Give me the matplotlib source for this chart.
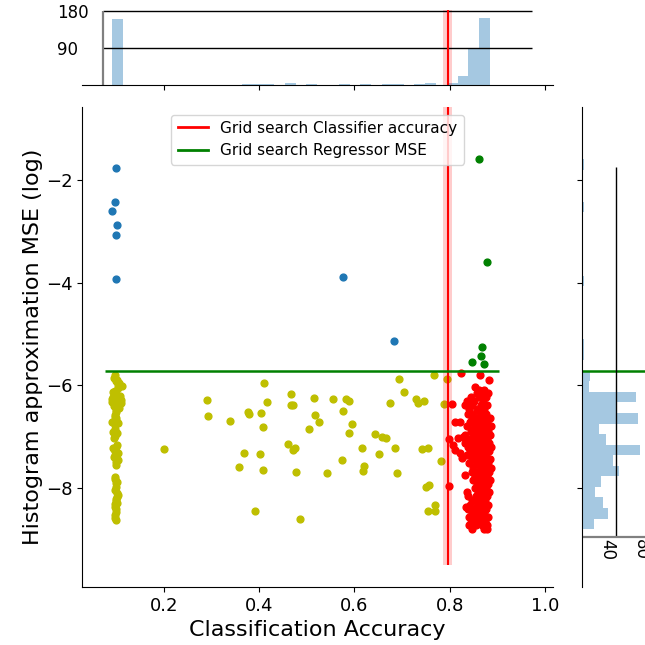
import numpy as np
import matplotlib
matplotlib.use("Agg")
import matplotlib.pyplot as plt
from matplotlib.lines import Line2D

# ---- data ----
# classifier accuracy / log MSE of the grid search results, split by quadrant
blue_x = [0.099, 0.096, 0.091, 0.1006, 0.099, 0.099, 0.575, 0.684]
blue_y = [-1.77, -2.43, -2.61, -2.87, -3.07, -3.93, -3.88, -5.13]

green_x = [0.861, 0.878, 0.869, 0.865, 0.847, 0.872]
green_y = [-1.60, -3.59, -5.25, -5.43, -5.55, -5.58]

# yellow: column near 0.1
yel_col_x = [0.096, 0.095, 0.102, 0.106, 0.112, 0.103, 0.098, 0.101, 0.093, 0.109,
             0.091, 0.096, 0.102, 0.094, 0.099, 0.098, 0.100, 0.101, 0.097, 0.093,
             0.096, 0.094, 0.102, 0.094, 0.104, 0.095, 0.099, 0.100, 0.098, 0.099,
             0.097, 0.102, 0.100, 0.098, 0.099, 0.096, 0.099, 0.100, 0.097, 0.105,
             0.099, 0.100, 0.097, 0.099, 0.098, 0.101, 0.098, 0.100, 0.101, 0.099,
             0.098, 0.100, 0.097, 0.101, 0.096, 0.097, 0.103, 0.108, 0.090, 0.110,
             0.092, 0.106, 0.091, 0.104, 0.092, 0.103, 0.104, 0.101, 0.102]
yel_col_y = [-5.80, -5.86, -5.89, -5.96, -6.02, -6.05, -6.14, -6.19, -6.23, -6.28,
             -6.32, -6.36, -6.38, -6.41, -6.48, -6.58, -6.64, -6.71, -6.77, -6.90,
             -6.98, -7.03, -7.16, -7.23, -7.32, -7.39, -7.49, -7.55, -7.78, -7.91,
             -8.04, -8.17, -8.26, -8.36, -8.46, -8.59, -8.62, -5.92, -6.10, -6.25,
             -6.30, -6.52, -6.85, -7.20, -7.27, -7.43, -7.83, -7.97, -8.10, -8.21,
             -8.31, -8.41, -8.52, -6.93, -6.62, -7.35, -5.99, -6.20, -6.27, -6.34,
             -6.12, -6.44, -6.72, -6.74, -7.22, -7.45, -8.14, -8.29, -7.88]
# yellow: scattered between 0.2 and 0.8
yel_x = [0.200, 0.290, 0.292, 0.339, 0.358, 0.368, 0.377, 0.378, 0.391, 0.402,
         0.403, 0.407, 0.409, 0.411, 0.416, 0.460, 0.467, 0.467, 0.470, 0.470,
         0.475, 0.477, 0.485, 0.505, 0.516, 0.517, 0.525, 0.543, 0.554, 0.573,
         0.576, 0.582, 0.588, 0.588, 0.594, 0.615, 0.617, 0.621, 0.643, 0.652,
         0.657, 0.666, 0.674, 0.685, 0.689, 0.693, 0.704, 0.729, 0.733, 0.742,
         0.746, 0.750, 0.754, 0.755, 0.757, 0.767, 0.769, 0.770, 0.781, 0.788,
         0.794]
yel_y = [-7.24, -6.28, -6.60, -6.69, -7.59, -7.31, -6.51, -6.56, -8.44, -7.34,
         -6.54, -7.64, -6.81, -5.96, -6.32, -7.15, -6.17, -6.39, -6.39, -7.26,
         -7.22, -7.69, -8.60, -6.84, -6.25, -6.58, -6.71, -7.71, -6.26, -7.45,
         -6.50, -6.27, -6.31, -6.92, -6.75, -7.21, -7.67, -7.57, -6.95, -7.34,
         -7.00, -7.02, -6.34, -7.21, -7.70, -5.88, -6.12, -6.27, -6.35, -7.23,
         -6.30, -7.98, -7.21, -8.44, -7.93, -5.79, -8.33, -8.45, -7.47, -6.36,
         -5.88]

# red: outliers next to the classifier line
red_out_x = [0.824, 0.864, 0.882, 0.804, 0.811, 0.821, 0.799, 0.808, 0.799, 0.818,
             0.829, 0.811, 0.822, 0.825, 0.832, 0.834, 0.842]
red_out_y = [-5.75, -5.80, -5.89, -6.36, -6.71, -6.71, -7.04, -7.17, -7.96, -7.03,
             -7.00, -7.26, -7.31, -7.42, -7.74, -8.36, -8.69]
# red: dense cluster, one row per y level
red_rows_y = [-6.03, -6.08, -6.15, -6.22, -6.30, -6.38, -6.46, -6.55, -6.63, -6.72,
              -6.80, -6.88, -6.96, -7.04, -7.12, -7.20, -7.28, -7.36, -7.44, -7.52,
              -7.60, -7.68, -7.76, -7.84, -7.92, -8.00, -8.08, -8.16, -8.24, -8.32,
              -8.40, -8.48, -8.56, -8.64, -8.72, -8.80]
red_rows_x = [[0.853], [0.861, 0.872], [0.858, 0.868, 0.880], [0.845, 0.862, 0.877],
              [0.836, 0.852, 0.870], [0.833, 0.848, 0.866, 0.879], [0.841, 0.857, 0.873],
              [0.838, 0.850, 0.864, 0.876], [0.846, 0.860, 0.871, 0.884],
              [0.842, 0.855, 0.868, 0.879], [0.836, 0.851, 0.864, 0.876, 0.886],
              [0.845, 0.858, 0.870, 0.881], [0.833, 0.849, 0.863, 0.875, 0.884],
              [0.840, 0.854, 0.868, 0.879], [0.832, 0.846, 0.860, 0.873, 0.883],
              [0.838, 0.853, 0.866, 0.878, 0.887], [0.843, 0.857, 0.870, 0.882],
              [0.836, 0.850, 0.864, 0.876], [0.846, 0.860, 0.872, 0.884],
              [0.841, 0.855, 0.868, 0.880], [0.850, 0.863, 0.876, 0.886],
              [0.846, 0.859, 0.871, 0.882], [0.854, 0.866, 0.878],
              [0.850, 0.862, 0.874, 0.884], [0.857, 0.869, 0.880], [0.853, 0.865, 0.877],
              [0.836, 0.860, 0.872, 0.883], [0.839, 0.855, 0.867, 0.879],
              [0.848, 0.862, 0.875], [0.843, 0.857, 0.869, 0.881],
              [0.838, 0.852, 0.865, 0.877], [0.846, 0.860, 0.872],
              [0.841, 0.855, 0.868, 0.880], [0.849, 0.862, 0.875],
              [0.840, 0.856, 0.869, 0.879], [0.848, 0.873, 0.878]]

# marginal histograms (counts per bin)
acc_bin_lo, acc_bin_hi = 0.0908, 0.885
acc_counts = [159, 0, 0, 0, 1, 0, 0, 0, 1, 0, 1, 1, 3, 3, 3, 1, 5, 1, 3, 1,
              1, 3, 1, 3, 1, 3, 3, 1, 3, 5, 1, 4, 22, 90, 162]
mse_bin_lo, mse_bin_hi = -8.80, -1.60
mse_counts = [14, 30, 25, 15, 22, 44, 36, 68, 28, 20, 66, 40, 63, 8, 9,
              1, 2, 2, 0, 0, 0, 0, 0, 2, 0, 1, 0, 1, 1, 0, 2, 0, 0, 0, 2]

clf_acc = 0.796      # grid search classifier accuracy
clf_acc_std = 0.009
reg_mse = -5.72      # grid search regressor MSE (log)

# ---- figure ----
W = H = 645
fig = plt.figure(figsize=(6.45, 6.45), dpi=100)


def px_rect(x0, y0, x1, y1):
    return [x0 / W, 1 - y1 / H, (x1 - x0) / W, (y1 - y0) / H]


ax = fig.add_axes(px_rect(82, 107, 553, 587))
ax_top = fig.add_axes(px_rect(82, 10, 553, 85), sharex=ax)
ax_right = fig.add_axes(px_rect(582, 107, 662, 587), sharey=ax)

dot = 24
ax.scatter(blue_x, blue_y, s=dot, color="#1f77b4", zorder=3)
ax.scatter(green_x, green_y, s=dot, color="g", zorder=3)
ax.scatter(yel_col_x + yel_x, yel_col_y + yel_y, s=dot, color="y", zorder=3)
rx = list(red_out_x)
ry = list(red_out_y)
for yv, xs in zip(red_rows_y, red_rows_x):
    rx += xs
    ry += [yv] * len(xs)
ax.scatter(rx, ry, s=dot, color="r", zorder=3)

ax.vlines(clf_acc, -9.5, 0, color="red", lw=1.5, zorder=4)
ax.fill_betweenx([-9.5, 0], clf_acc - clf_acc_std, clf_acc + clf_acc_std,
                 color="red", alpha=0.2, lw=0, zorder=4)
ax.hlines(reg_mse, 0.076, 0.904, color="green", lw=1.8, zorder=4)

ax.set_xlim(0.0277, 1.0172)
ax.set_ylim(-9.926, -0.578)
ax.set_xticks([0.2, 0.4, 0.6, 0.8, 1.0])
ax.set_yticks([-2, -4, -6, -8])
ax.tick_params(labelsize=13)
ax.set_xlabel("Classification Accuracy", fontsize=16)
ax.set_ylabel("Histogram approximation MSE (log)", fontsize=16, labelpad=2)
for s in ["top", "right"]:
    ax.spines[s].set_visible(False)

handles = [Line2D([], [], color="red", lw=2), Line2D([], [], color="green", lw=2)]
ax.legend(handles, ["Grid search Classifier accuracy", "Grid search Regressor MSE"],
          loc="upper center", fontsize=11)

# top marginal: accuracy histogram
edges = np.linspace(acc_bin_lo, acc_bin_hi, len(acc_counts) + 1)
ax_top.bar(edges[:-1], acc_counts, width=np.diff(edges), align="edge",
           color="#1f77b4", alpha=0.4, lw=0)
ax_top.set_ylim(0, 181.7)
ax_top.hlines([90, 180], 0.0718, 0.973, color="black", lw=1, clip_on=False)
ax_top.vlines(0.0718, 0, 180, color="gray", lw=1.6)
ax_top.axvline(clf_acc, color="red", lw=1.5)
ax_top.axvspan(clf_acc - clf_acc_std, clf_acc + clf_acc_std, color="red", alpha=0.2, lw=0)
ax_top.set_yticks([90, 180])
ax_top.tick_params(axis="y", length=0, pad=18, labelsize=12)
for lab in ax_top.get_yticklabels():
    lab.set_horizontalalignment("left")
ax_top.tick_params(axis="x", labelbottom=False)
for s in ["top", "right", "left"]:
    ax_top.spines[s].set_visible(False)

# right marginal: MSE histogram
edges = np.linspace(mse_bin_lo, mse_bin_hi, len(mse_counts) + 1)
ax_right.barh(edges[:-1], mse_counts, height=np.diff(edges), align="edge",
              color="#1f77b4", alpha=0.4, lw=0)
ax_right.set_xlim(0, 80 / 0.85)
ax_right.axhline(reg_mse, color="green", lw=1.8)
ax_right.vlines(40, -8.95, -1.75, color="black", lw=1)
ax_right.hlines(-8.95, 0, 100, color="gray", lw=1.6)
for v in [40, 80]:
    ax_right.text(v, -9.0, str(v), rotation=-90, ha="right", va="top", fontsize=12)
ax_right.set_xticks([])
ax_right.tick_params(axis="y", labelleft=False)
for s in ["top", "right", "bottom"]:
    ax_right.spines[s].set_visible(False)

fig.savefig("out.png", dpi=100)
